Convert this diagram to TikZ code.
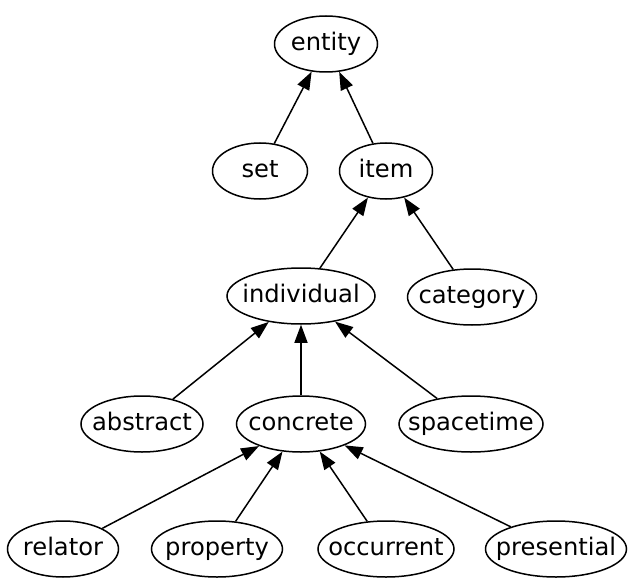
\documentclass[tikz,border=0pt]{standalone}
\usepackage{fontspec}
\setmainfont{DejaVu Sans}
\usetikzlibrary{arrows.meta,shapes.geometric}

\begin{document}
\begin{tikzpicture}[
		x=1pt, y=-1pt,
		%Option for graph arrows
		>={Triangle[length=18pt,width=13pt]}, %
		concept/.style={draw, ellipse, line width=1.5pt, minimum height=56pt,%
			inner xsep=-30pt, inner ysep=0pt, text height=18.4pt, text depth=5.6pt,%
			font=\fontsize{24.2}{28}\selectfont},
		isa/.style={->, line width=1.5pt},
	]
		\useasboundingbox (0,0) rectangle (629,583);

		% Top levels
		\node[concept, minimum width=103pt] (entity) at (326,44) {entity};
		\node[concept, minimum width=95pt] (set) at (260,171) {set};
		\node[concept, minimum width=93pt] (item) at (386,171) {item};
		\node[concept, minimum width=148pt] (individual) at (301,296) {individual};
		\node[concept, minimum width=129pt] (category) at (472,297) {category};

		% Kinds of individual
		\node[concept, minimum width=122pt] (abstract) at (142,424) {abstract};
		\node[concept, minimum width=129pt] (concrete) at (301,424) {concrete};
		\node[concept, minimum width=144pt] (spacetime) at (471,424) {spacetime};

		% Kinds of concrete
		\node[concept, minimum width=111pt] (relator) at (63,549) {relator};
		\node[concept, minimum width=131pt] (property) at (217,549) {property};
		\node[concept, minimum width=136pt] (occurrent) at (386,549) {occurrent};
		\node[concept, minimum width=141pt] (presential) at (556,549) {presential};

		% Edges
		\foreach \child/\parent in {set/entity, item/entity,
				individual/item, category/item,
				abstract/individual, concrete/individual, spacetime/individual,
				relator/concrete, property/concrete, occurrent/concrete,
				presential/concrete}
			\draw[isa] (\child) -- (\parent);
	\end{tikzpicture}
\end{document}
